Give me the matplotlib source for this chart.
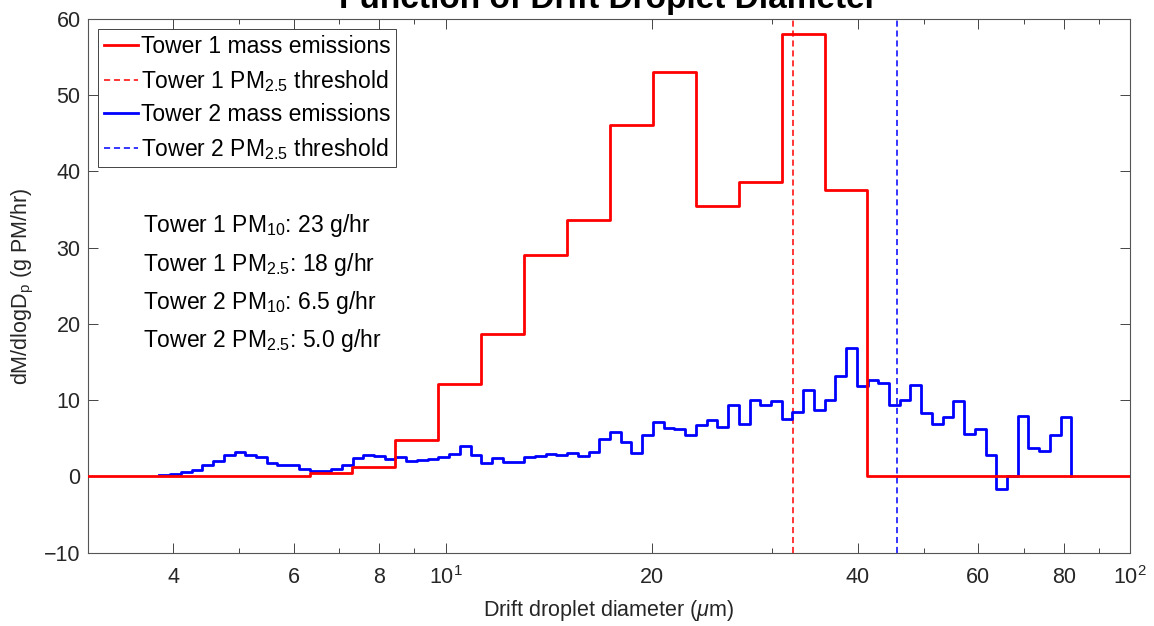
import numpy as np
import matplotlib.pyplot as plt
from matplotlib.ticker import FixedLocator, FixedFormatter, NullFormatter

plt.rcParams["font.family"] = ["Liberation Sans", "DejaVu Sans"]
plt.rcParams["mathtext.fontset"] = "custom"
plt.rcParams["mathtext.rm"] = "Liberation Sans"
plt.rcParams["mathtext.it"] = "Liberation Sans:italic"
plt.rcParams["mathtext.bf"] = "Liberation Sans:bold"

# ---- data ----
# Tower 1, coarse log-spaced size bins (um)
t1_edge_min = 6.33
t1_edge_max = 41.35
t1_vals = [0.45, 1.27, 4.8, 12.1, 18.7, 29.1, 33.7, 46.1, 53.1, 35.5, 38.6, 58.0, 37.6]

# Tower 2, fine log-spaced size bins (um)
t2_edge_min = 3.82
t2_edge_max = 82.1
t2_vals = [0.13, 0.31, 0.57, 0.83, 1.49, 2.01, 2.75, 3.19, 2.84, 2.58,
           1.83, 1.44, 1.44, 0.92, 0.74, 0.66, 0.92, 1.44, 2.40, 2.75,
           2.67, 2.23, 2.49, 1.97, 2.14, 2.31, 2.49, 3.01, 4.06, 2.84,
           1.79, 2.40, 1.88, 1.88, 2.58, 2.67, 3.01, 2.75, 3.05, 2.67,
           3.15, 4.95, 5.8, 4.5, 3.05, 5.4, 7.2, 6.4, 6.2, 5.5,
           6.8, 7.4, 6.5, 9.4, 6.9, 10.0, 9.4, 9.9, 7.5, 8.4,
           11.4, 8.7, 10.0, 13.2, 16.9, 11.9, 12.7, 12.3, 9.4, 10.0,
           12.0, 8.3, 6.9, 7.8, 9.9, 5.6, 6.2, 2.8, -1.7, 0.0,
           7.9, 3.7, 3.3, 5.4, 7.8]

# PM2.5 threshold diameters (um)
t1_pm25_cut = 32.2
t2_pm25_cut = 45.6

stats_text = ["Tower 1 PM$_{10}$: 23 g/hr",
              "Tower 1 PM$_{2.5}$: 18 g/hr",
              "Tower 2 PM$_{10}$: 6.5 g/hr",
              "Tower 2 PM$_{2.5}$: 5.0 g/hr"]

x_lim = (3, 100)
y_lim = (-10, 60)
x_ticks = [4, 6, 8, 10, 20, 40, 60, 80, 100]
x_ticklabels = ["4", "6", "8", "$10^{1}$", "20", "40", "60", "80", "$10^{2}$"]
x_minor = [5, 7, 9, 30, 50, 70, 90]
y_ticks = [-10, 0, 10, 20, 30, 40, 50, 60]

# ---- figure ----
W, H = 1154, 626
fig = plt.figure(figsize=(W / 100, H / 100), dpi=100)
ax = fig.add_axes([87.6 / W, 1 - 552.7 / H, (1130 - 87.6) / W, (552.7 - 19) / H])

t1_edges = np.geomspace(t1_edge_min, t1_edge_max, len(t1_vals) + 1)
x1 = np.concatenate([[x_lim[0]], t1_edges, [x_lim[1]]])
y1 = np.concatenate([[0], t1_vals, [0, 0]])

t2_edges = np.geomspace(t2_edge_min, t2_edge_max, len(t2_vals) + 1)
y2 = np.concatenate([t2_vals, [0]])

h1, = ax.step(x1, y1, where="post", color="#ff0000", lw=2.0, zorder=4,
              label="Tower 1 mass emissions")
h3, = ax.step(t2_edges, y2, where="post", color="#0000ff", lw=2.0, zorder=3,
              label="Tower 2 mass emissions")
h2 = ax.axvline(t1_pm25_cut, color="#ff0000", lw=1.1, ls=(0, (4, 2.5)), zorder=2,
                label="Tower 1 PM$_{2.5}$ threshold")
h4 = ax.axvline(t2_pm25_cut, color="#0000ff", lw=1.1, ls=(0, (4, 2.5)), zorder=2,
                label="Tower 2 PM$_{2.5}$ threshold")

ax.set_xscale("log")
ax.set_xlim(*x_lim)
ax.set_ylim(*y_lim)
ax.xaxis.set_major_locator(FixedLocator(x_ticks))
ax.xaxis.set_major_formatter(FixedFormatter(x_ticklabels))
ax.xaxis.set_minor_locator(FixedLocator(x_minor))
ax.xaxis.set_minor_formatter(NullFormatter())
ax.set_yticks(y_ticks)

ax.tick_params(which="both", direction="in", top=True, right=True,
               colors="#262626", width=0.6, labelsize=15.5)
ax.tick_params(which="major", length=7)
ax.tick_params(which="minor", length=3.5)
ax.tick_params(axis="x", pad=10)
ax.tick_params(axis="y", pad=5)
for s in ax.spines.values():
    s.set_color("#555555")
    s.set_linewidth(0.8)

ax.set_xlabel("Drift droplet diameter ($\\mu$m)", fontsize=15.5, color="#262626", labelpad=6)
ax.set_ylabel("dM/dlogD$_{\\mathrm{p}}$ (g PM/hr)", fontsize=15.5, color="#262626", labelpad=6)

leg = ax.legend(handles=[h1, h2, h3, h4], loc="upper left", fontsize=16.5,
                fancybox=False, framealpha=1, edgecolor="#262626",
                borderaxespad=0.45, borderpad=0.25, handlelength=1.5,
                handletextpad=0.12, labelspacing=0.42)
leg.get_frame().set_linewidth(0.6)

for i, s in enumerate(stats_text):
    ax.text(3.62, 32 - 5 * i, s, fontsize=16.5, color="#000000", va="baseline")

fig.text(608.8 / W, 1 - 8 / H, "Function of Drift Droplet Diameter",
         ha="center", va="baseline", fontsize=24, fontweight="bold")

fig.savefig("out.png", dpi=100)
plt.close(fig)
